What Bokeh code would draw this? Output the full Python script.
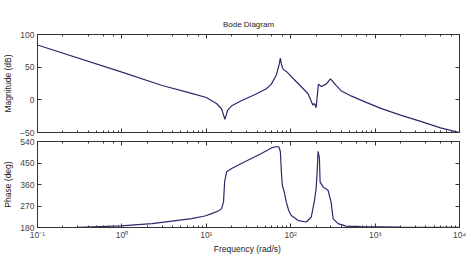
from bokeh.plotting import figure
from bokeh.layouts import column
from bokeh.models import LogAxis, LinearAxis, FixedTicker, CustomJSTickFormatter, Range1d
from bokeh.embed import file_html
from bokeh.resources import INLINE

# ---- data ----
mag_freq = [0.1, 1.0, 3.0, 6.7, 10.0, 13.3, 15.2, 16.6, 17.9, 20, 26, 39,
            51.5, 59, 67.6, 73.3, 75.4, 77.5, 81, 88.7, 116, 160, 183, 191, 200, 213, 230,
            263, 296, 345, 395, 519, 677, 1170, 2000, 3460, 5970, 10000]
mag_db = [84, 42.5, 22, 10, 3.5, -6, -14, -30, -16, -9, -1.5, 9,
          17, 24, 38, 55, 64, 55, 47, 43.5, 28, 9.7, -8, -5.7, -12, 24, 20.5,
          24, 32, 22, 14, 6, -0.5, -13, -23.5, -33, -43, -50]

ph_freq = [0.1, 0.3, 0.98, 2.27, 6.7, 9.6, 11.6, 14.0, 15.2, 16.0, 16.5, 17.4, 20, 26,
           45, 59, 68, 72.5, 75.4, 77.5, 79.6, 84, 88.7, 95, 101.6, 123, 153, 175, 190, 200, 206,
           211, 219, 223, 242, 277, 301, 318, 364, 453, 677, 2000, 10000]
ph_deg = [180, 181, 187, 196, 217, 228, 238, 250, 259, 288, 372, 413, 427, 448,
          490, 513, 519, 517, 498, 414, 356, 328, 286, 250, 230, 209, 203, 223, 286, 342, 414,
          499, 469, 371, 350, 336, 286, 217, 196, 186, 184, 182, 181]

x_ticks = [0.1, 1, 10, 100, 1000, 10000]
x_tick_labels = ["10\u207b\u00b9", "10\u2070", "10\u00b9", "10\u00b2", "10\u00b3", "10\u2074"]
mag_ticks = [-50, 0, 50, 100]
ph_ticks = [180, 270, 360, 450, 540]

title_text = "Bode Diagram"
mag_label = "Magnitude (dB)"
ph_label = "Phase (deg)"
x_label = "Frequency  (rad/s)"

LINE = "#2a2a6e"
AX = "#333333"
TXT = "#444444"
FONT = "Liberation Sans"
FS = "8.5px"


def style_axis(ax, labels=True):
    ax.axis_line_color = AX
    ax.major_tick_line_color = AX
    ax.minor_tick_line_color = AX
    ax.major_tick_in = 4
    ax.major_tick_out = 0
    ax.minor_tick_in = 2
    ax.minor_tick_out = 0
    ax.major_label_text_font = FONT
    ax.major_label_text_font_size = FS
    ax.major_label_text_color = TXT
    ax.major_label_standoff = 3
    ax.axis_label_text_font = FONT
    ax.axis_label_text_font_size = FS
    ax.axis_label_text_font_style = "normal"
    ax.axis_label_text_color = "#222222"
    ax.axis_label_standoff = 4
    if not labels:
        ax.formatter = CustomJSTickFormatter(code="return ''")
        ax.major_label_standoff = 0


def make_fig(height, top, bottom, y_range, yticks, ylabel, xlabels, title=None):
    p = figure(width=474, height=height, x_axis_type="log",
               x_range=Range1d(0.1, 10000), y_range=Range1d(*y_range),
               output_backend="svg", toolbar_location=None,
               min_border_left=35, min_border_right=15,
               min_border_top=top, min_border_bottom=bottom)
    p.grid.visible = False
    p.outline_line_color = AX
    p.background_fill_color = "white"
    p.border_fill_color = "white"
    xa = p.xaxis[0]
    ya = p.yaxis[0]
    style_axis(xa, labels=xlabels)
    style_axis(ya)
    ya.ticker = FixedTicker(ticks=yticks)
    ya.minor_tick_line_color = None
    ya.axis_label = ylabel
    if xlabels:
        xa.major_label_overrides = {t: s for t, s in zip(x_ticks, x_tick_labels)}
        xa.axis_label = x_label
        xa.major_label_standoff = 2
        xa.axis_label_standoff = 1
    top_ax = LogAxis()
    style_axis(top_ax, labels=False)
    if title:
        top_ax.axis_label = title
        top_ax.axis_label_text_font_size = "8px"
        top_ax.axis_label_standoff = 6
    p.add_layout(top_ax, "above")
    right_ax = LinearAxis(ticker=FixedTicker(ticks=yticks))
    style_axis(right_ax, labels=False)
    right_ax.minor_tick_line_color = None
    p.add_layout(right_ax, "right")
    return p


p1 = make_fig(136, 34, 4, (-50, 100), mag_ticks, mag_label, False, title=title_text)
p1.line(mag_freq, mag_db, line_color=LINE, line_width=1.2)

p2 = make_fig(120, 5, 29, (180, 540), ph_ticks, ph_label, True)
p2.line(ph_freq, ph_deg, line_color=LINE, line_width=1.2)

layout = column(p1, p2, spacing=0)
open("out.html", "w").write(file_html(layout, INLINE))
